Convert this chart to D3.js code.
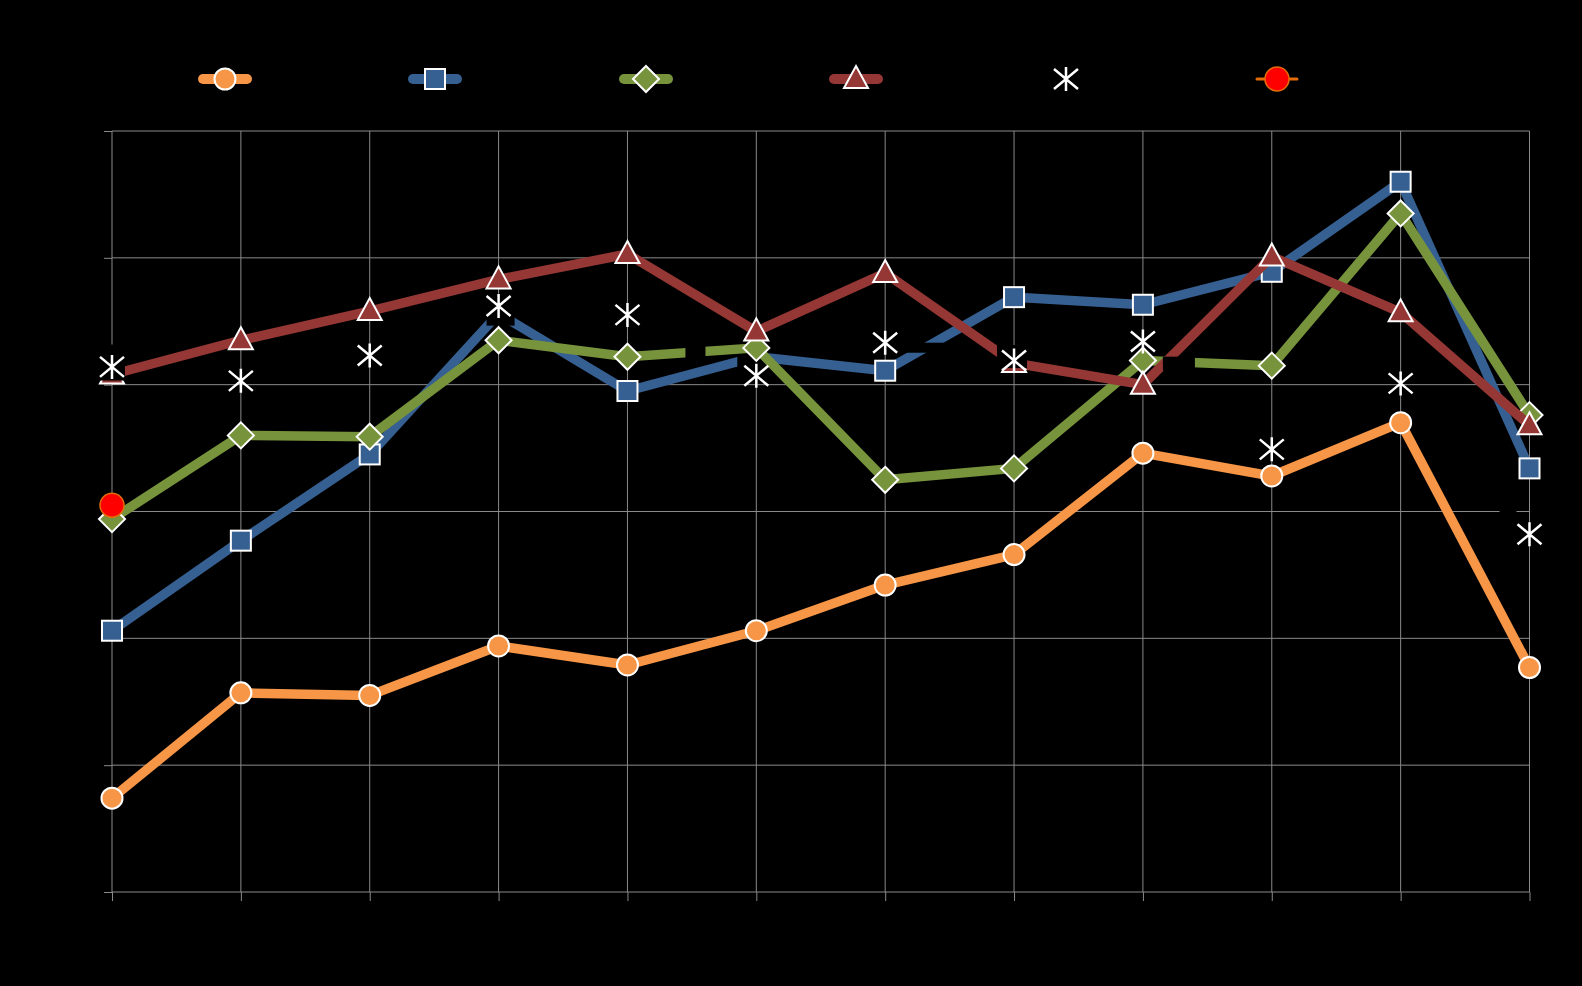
<!DOCTYPE html>
<html>
<head>
<meta charset="utf-8">
<script src="https://cdn.jsdelivr.net/npm/d3@7"></script>
<style>
  html, body { margin: 0; padding: 0; background: #000; }
  svg { display: block; }
</style>
</head>
<body>
<svg id="chart" width="1582" height="986"></svg>
<script>
// ---- data ----
const categories = ["1","2","3","4","5","6","7","8","9","10","11","12"];
const yTicks = [0, 10, 20, 30, 40, 50, 60];
const seriesOrange = [7.4, 15.7, 15.5, 19.4, 17.9, 20.6, 24.2, 26.6, 34.6, 32.8, 37.0, 17.7];
const seriesBlue   = [20.6, 27.7, 34.5, 45.6, 39.5, 42.2, 41.1, 46.9, 46.3, 48.9, 56.0, 33.4];
const seriesGreen  = [29.4, 36.0, 35.9, 43.5, 42.2, 42.9, 32.5, 33.4, 41.9, 41.5, 53.5, 37.6];
const seriesRed    = [40.8, 43.5, 45.8, 48.3, 50.3, 44.2, 48.8, 41.7, 40.0, 50.1, 45.7, 36.8];
const seriesStar   = [41.4, 40.3, 42.3, 46.2, 45.5, 40.7, 43.3, 41.9, 43.4, 34.9, 40.1, 28.2];
const seriesDot    = [30.5];

// ---- layout ----
const svg = d3.select("#chart");
const x = d3.scalePoint().domain(categories).range([112, 1529.5]);
const y = d3.scaleLinear().domain([0, 60]).range([892, 131]);
const gridColor = "#8a8a8a";

// horizontal gridlines + left ticks
const yAxis = d3.axisLeft(y).tickValues(yTicks).tickSize(8).tickFormat("");
const gy = svg.append("g").attr("transform", "translate(112,0)").call(yAxis);
gy.select(".domain").remove();
gy.selectAll(".tick line").attr("stroke", gridColor);
svg.append("g").selectAll("line").data(yTicks).join("line")
  .attr("x1", 112).attr("x2", 1529.5)
  .attr("y1", d => y(d)).attr("y2", d => y(d))
  .attr("stroke", gridColor).attr("stroke-width", 1);

// vertical gridlines + bottom ticks
const xAxis = d3.axisBottom(x).tickSize(9).tickFormat("");
const gx = svg.append("g").attr("transform", "translate(0,892)").call(xAxis);
gx.select(".domain").remove();
gx.selectAll(".tick line").attr("stroke", gridColor);
svg.append("g").selectAll("line").data(categories).join("line")
  .attr("x1", d => x(d)).attr("x2", d => x(d))
  .attr("y1", 131).attr("y2", 892)
  .attr("stroke", gridColor).attr("stroke-width", 1);

// ---- marker shapes ----
function marker(g, type, fill, stroke, sw) {
  if (type === "circle") {
    g.append("circle").attr("r", 10.5).attr("fill", fill).attr("stroke", stroke).attr("stroke-width", sw);
  } else if (type === "square") {
    g.append("rect").attr("x", -10).attr("y", -10).attr("width", 20).attr("height", 20)
      .attr("fill", fill).attr("stroke", stroke).attr("stroke-width", sw);
  } else if (type === "diamond") {
    g.append("path").attr("d", "M0,-13L13,0L0,13L-13,0Z")
      .attr("fill", fill).attr("stroke", stroke).attr("stroke-width", sw);
  } else if (type === "triangle") {
    g.append("path").attr("d", "M0,-13L12,9L-12,9Z")
      .attr("fill", fill).attr("stroke", stroke).attr("stroke-width", sw);
  } else if (type === "star") {
    g.append("path").attr("d", "M0,-12L0,12M-12,-10L12,10M-12,10L12,-10")
      .attr("fill", "none").attr("stroke", stroke).attr("stroke-width", sw);
  } else if (type === "dot") {
    g.append("circle").attr("r", 12).attr("fill", fill).attr("stroke", stroke).attr("stroke-width", sw);
  }
}

// black (empty) data-label boxes that occlude parts of the chart,
// anchored to a point of a series: [x offset from, x offset to, y offset from, y offset to]
const labelBoxes = {
  blue:  [ {i: 3, box: [-12, 16, -20, 12]}, {i: 5, box: [-19, 12, -12, 14]}, {i: 6, box: [15, 65, -28, -18]} ],
  green: [ {i: 4, box: [58, 78, -19, 5]} ],
  red:   [ {i: 0, box: [-14, 13, -30, 6]}, {i: 7, box: [-17, 13, -18, 5]}, {i: 8, box: [20, 52, -28, -14]} ],
  star:  [ {i: 11, box: [-30, -13, -29, -16]} ]
};

const series = [
  { key: "orange", values: seriesOrange, color: "#F79646", type: "circle",   line: true, mstroke: "#fff", sw: 2 },
  { key: "blue",   values: seriesBlue,   color: "#366092", type: "square",   line: true, mstroke: "#fff", sw: 2 },
  { key: "green",  values: seriesGreen,  color: "#77933C", type: "diamond",  line: true, mstroke: "#fff", sw: 2 },
  { key: "red",    values: seriesRed,    color: "#953735", type: "triangle", line: true, mstroke: "#fff", sw: 2 },
  { key: "star",   values: seriesStar,   color: "#fff",    type: "star",     line: false, mstroke: "#fff", sw: 2.5 },
  { key: "dot",    values: seriesDot,    color: "#FF0000", type: "dot",      line: false, mstroke: "#E46C0A", sw: 1.5 }
];

const lineGen = d3.line().x((d, i) => x(categories[i])).y(d => y(d));

series.forEach(s => {
  const g = svg.append("g");
  if (s.line) {
    g.append("path").datum(s.values).attr("d", lineGen)
      .attr("fill", "none").attr("stroke", s.color).attr("stroke-width", 9.5)
      .attr("stroke-linejoin", "round").attr("stroke-linecap", "butt");
  }
  const boxes = labelBoxes[s.key] || [];
  const boxLayer = () => {
    boxes.forEach(b => {
      const cx = x(categories[b.i]), cy = y(s.values[b.i]);
      g.append("rect")
        .attr("x", cx + b.box[0]).attr("y", cy + b.box[2])
        .attr("width", b.box[1] - b.box[0]).attr("height", b.box[3] - b.box[2])
        .attr("fill", "#000");
    });
  };
  if (s.key === "star") boxLayer();
  s.values.forEach((v, i) => {
    const mg = g.append("g").attr("transform", `translate(${x(categories[i])},${y(v)})`);
    marker(mg, s.type, s.color, s.mstroke, s.sw);
  });
  if (s.key !== "star") boxLayer();
});

// ---- legend ----
const legendX = [225, 435, 646, 856, 1066, 1277];
const legendY = 79;
series.forEach((s, i) => {
  const g = svg.append("g").attr("transform", `translate(${legendX[i]},${legendY})`);
  if (s.line) {
    g.append("line").attr("x1", -22).attr("x2", 22).attr("y1", 0).attr("y2", 0)
      .attr("stroke", s.color).attr("stroke-width", 10).attr("stroke-linecap", "round");
  } else if (s.type === "dot") {
    g.append("line").attr("x1", -20).attr("x2", 20).attr("y1", 0).attr("y2", 0)
      .attr("stroke", "#E46C0A").attr("stroke-width", 3).attr("stroke-linecap", "round");
  }
  marker(g, s.type, s.color, s.mstroke, s.sw);
});
</script>
</body>
</html>
